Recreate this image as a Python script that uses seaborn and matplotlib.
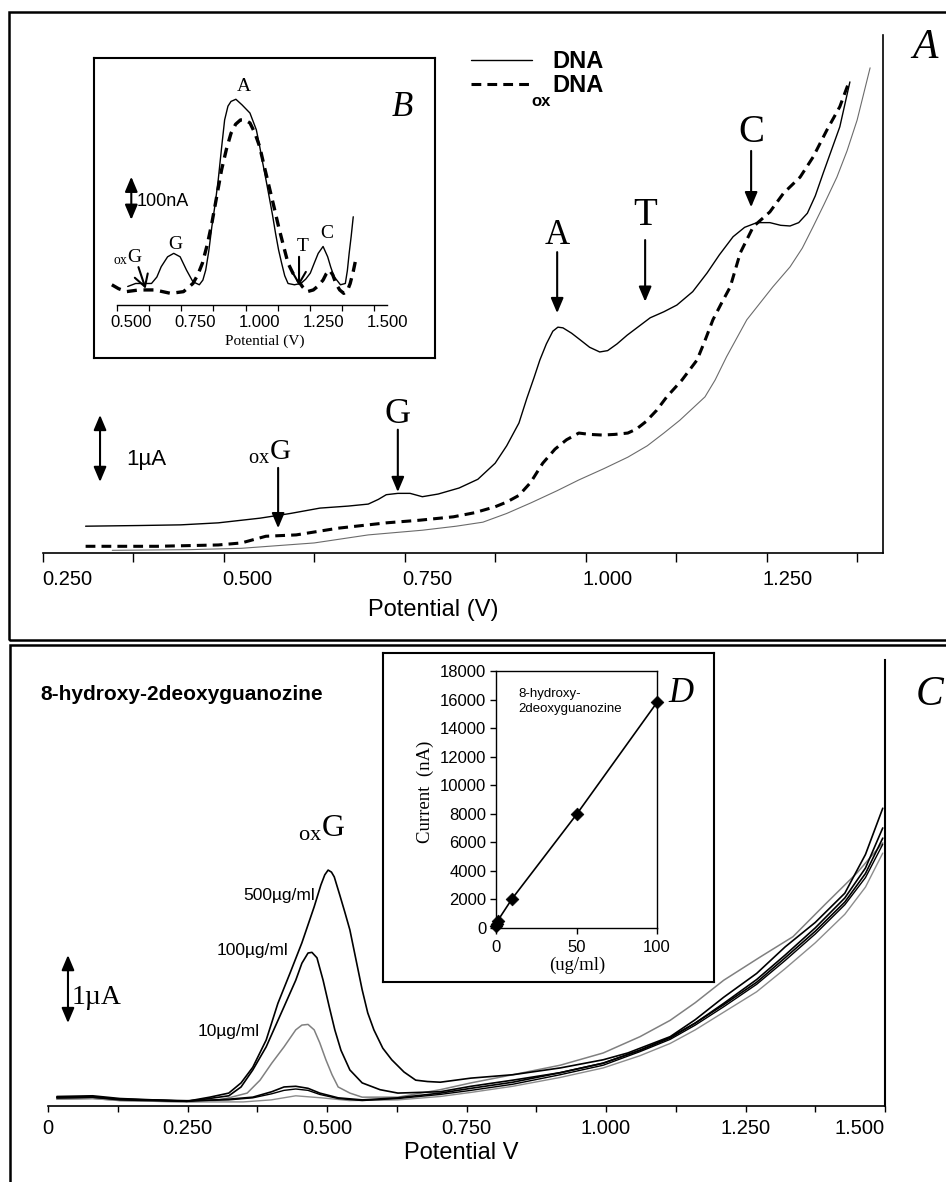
import numpy as np
import matplotlib
matplotlib.use("Agg")
import matplotlib.pyplot as plt
import seaborn as sns
from matplotlib.patches import Rectangle

# ---------------- Panel A : DPV of DNA / oxDNA (current in uA) ----------------
dna_v = [0.276, 0.350, 0.408, 0.460, 0.518, 0.560, 0.601, 0.640, 0.668, 0.682, 0.693,
         0.709, 0.726, 0.743, 0.765, 0.794, 0.820, 0.844, 0.860, 0.877, 0.888, 0.898,
         0.906, 0.915, 0.924, 0.931, 0.938, 0.950, 0.962, 0.975, 0.989, 1.000, 1.013,
         1.027, 1.043, 1.059, 1.078, 1.096, 1.118, 1.138, 1.155, 1.174, 1.190, 1.207,
         1.225, 1.240, 1.253, 1.265, 1.277, 1.288, 1.299, 1.310, 1.322, 1.336]
dna_i = [0.40, 0.41, 0.42, 0.45, 0.52, 0.59, 0.67, 0.70, 0.73, 0.80, 0.87,
         0.89, 0.89, 0.84, 0.88, 0.97, 1.10, 1.34, 1.60, 1.94, 2.31, 2.62,
         2.88, 3.12, 3.31, 3.37, 3.36, 3.28, 3.18, 3.07, 3.00, 3.02, 3.12,
         3.25, 3.38, 3.51, 3.60, 3.70, 3.90, 4.18, 4.45, 4.72, 4.86, 4.93,
         4.93, 4.89, 4.88, 4.93, 5.07, 5.33, 5.67, 6.00, 6.36, 7.03]

ox_v = [0.276, 0.375, 0.460, 0.492, 0.526, 0.568, 0.626, 0.693, 0.740, 0.786, 0.815,
        0.844, 0.860, 0.877, 0.893, 0.910, 0.927, 0.943, 0.960, 0.975, 0.993, 1.010,
        1.028, 1.040, 1.053, 1.068, 1.082, 1.103, 1.124, 1.135, 1.146, 1.158, 1.170,
        1.184, 1.202, 1.225, 1.244, 1.267, 1.285, 1.304, 1.322, 1.334]
ox_i = [0.10, 0.10, 0.12, 0.15, 0.25, 0.27, 0.37, 0.45, 0.49, 0.54, 0.60,
        0.69, 0.76, 0.86, 1.05, 1.34, 1.55, 1.69, 1.79, 1.77, 1.76, 1.77,
        1.79, 1.85, 1.96, 2.13, 2.33, 2.58, 2.88, 3.17, 3.48, 3.73, 3.97,
        4.48, 4.87, 5.09, 5.37, 5.61, 5.91, 6.31, 6.66, 7.01]

blank_v = [0.313, 0.420, 0.492, 0.593, 0.668, 0.743, 0.790, 0.827, 0.860, 0.894, 0.930,
           0.960, 0.995, 1.028, 1.055, 1.078, 1.100, 1.120, 1.135, 1.149, 1.165, 1.193,
           1.229, 1.253, 1.270, 1.285, 1.300, 1.318, 1.332, 1.346, 1.364]
blank_i = [0.04, 0.05, 0.07, 0.15, 0.27, 0.34, 0.40, 0.46, 0.59, 0.75, 0.93,
           1.09, 1.26, 1.43, 1.60, 1.79, 1.98, 2.18, 2.33, 2.58, 2.93, 3.48,
           3.97, 4.27, 4.55, 4.87, 5.20, 5.61, 6.00, 6.46, 7.24]

a_ticklabels = ["0.250", "0.500", "0.750", "1.000", "1.250"]
a_tickvals = [0.25, 0.50, 0.75, 1.00, 1.25]

# peak markers (oxG, G, A, T, C)
a_peaks = [r"$_{\mathrm{ox}}$G", "G", "A", "T", "C"]
a_arrow_v = [0.543, 0.709, 0.930, 1.052, 1.199]
a_arrow_top = [1.27, 1.84, 4.49, 4.67, 6.00]
a_arrow_bot = [0.37, 0.91, 3.58, 3.75, 5.16]
a_label_v = [0.532, 0.709, 0.930, 1.052, 1.199]
a_label_y = [1.39, 1.94, 4.61, 4.90, 6.13]
a_label_size = [21, 26, 25, 28, 28]

# ---------------- Panel B : baseline-corrected inset (nA) ----------------
b_dna_v = [0.486, 0.517, 0.579, 0.600, 0.617, 0.642, 0.666, 0.691, 0.716, 0.741, 0.766,
           0.780, 0.791, 0.803, 0.815, 0.828, 0.840, 0.853, 0.865, 0.878, 0.890, 0.909,
           0.933, 0.964, 0.989, 1.001, 1.014, 1.027, 1.039, 1.052, 1.064, 1.076, 1.088,
           1.100, 1.113, 1.138, 1.163, 1.182, 1.200, 1.216, 1.231, 1.250, 1.268, 1.280,
           1.293, 1.318, 1.337, 1.345, 1.352, 1.360, 1.368]
b_dna_i = [43, 50, 50, 65, 89, 112, 120, 112, 81, 54, 47,
           58, 81, 125, 182, 235, 291, 365, 430, 462, 473, 478,
           465, 446, 407, 372, 330, 290, 252, 210, 167, 128, 97,
           68, 50, 47, 50, 60, 74, 98, 120, 136, 112, 88,
           66, 47, 50, 80, 120, 160, 205]
b_ox_v = [0.424, 0.450, 0.480, 0.530, 0.592, 0.654, 0.704, 0.741, 0.760, 0.778, 0.797,
          0.815, 0.834, 0.853, 0.872, 0.890, 0.908, 0.927, 0.945, 0.964, 0.983, 1.002,
          1.020, 1.039, 1.058, 1.076, 1.095, 1.113, 1.132, 1.151, 1.170, 1.188, 1.212,
          1.232, 1.250, 1.262, 1.275, 1.288, 1.300, 1.315, 1.331, 1.345, 1.356, 1.368, 1.380]
b_ox_i = [47, 38, 31, 35, 35, 27, 31, 50, 70, 97, 140,
          190, 252, 314, 362, 399, 420, 430, 430, 423, 400, 368,
          322, 275, 228, 182, 138, 97, 74, 58, 42, 31, 35,
          45, 58, 72, 81, 70, 50, 35, 27, 33, 50, 78, 112]
b_ticklabels = ["0.500", "0.750", "1.000", "1.250", "1.500"]
b_tickvals = [0.50, 0.75, 1.00, 1.25, 1.50]

# ---------------- Panel C : 8-OHdG at several concentrations (uA) ----------------
c500_v = [0.016, 0.080, 0.129, 0.249, 0.290, 0.324, 0.346, 0.367, 0.391, 0.412, 0.434, 0.455,
          0.477, 0.489, 0.496, 0.502, 0.508, 0.513, 0.523, 0.532, 0.541, 0.552, 0.563, 0.573,
          0.584, 0.600, 0.616, 0.638, 0.659, 0.680, 0.703, 0.758, 0.833, 0.918, 0.995, 1.039,
          1.115, 1.160, 1.211, 1.270, 1.321, 1.375, 1.428, 1.465, 1.496]
c500_i = [0.12, 0.13, 0.09, 0.07, 0.13, 0.19, 0.34, 0.57, 0.97, 1.51, 1.96, 2.40,
          2.93, 3.25, 3.40, 3.47, 3.44, 3.37, 3.10, 2.85, 2.59, 2.15, 1.71, 1.37,
          1.12, 0.85, 0.68, 0.50, 0.38, 0.36, 0.35, 0.41, 0.46, 0.56, 0.68, 0.78,
          1.02, 1.27, 1.60, 1.95, 2.34, 2.70, 3.13, 3.70, 4.38]

c100_v = [0.016, 0.080, 0.129, 0.249, 0.280, 0.324, 0.346, 0.367, 0.391, 0.423, 0.444, 0.455,
          0.466, 0.473, 0.482, 0.493, 0.504, 0.514, 0.525, 0.541, 0.563, 0.595, 0.627,
          0.703, 0.758, 0.833, 0.918, 0.995, 1.061, 1.115, 1.160, 1.211, 1.270, 1.321,
          1.375, 1.428, 1.465, 1.496]
c100_i = [0.12, 0.13, 0.10, 0.07, 0.10, 0.15, 0.28, 0.53, 0.87, 1.46, 1.85, 2.10,
          2.25, 2.26, 2.18, 1.85, 1.46, 1.12, 0.82, 0.53, 0.34, 0.24, 0.19,
          0.21, 0.29, 0.38, 0.49, 0.63, 0.82, 1.00, 1.22, 1.51, 1.86, 2.22,
          2.62, 3.06, 3.50, 4.09]

c10_v = [0.016, 0.080, 0.129, 0.249, 0.300, 0.324, 0.357, 0.380, 0.401, 0.423, 0.444, 0.455,
         0.466, 0.477, 0.487, 0.498, 0.509, 0.520, 0.541, 0.563, 0.627, 0.703, 0.758,
         0.833, 0.918, 0.995, 1.061, 1.115, 1.160, 1.211, 1.276, 1.335, 1.392, 1.450, 1.496]
c10_i = [0.10, 0.11, 0.08, 0.06, 0.08, 0.12, 0.19, 0.38, 0.63, 0.87, 1.12, 1.19,
         1.20, 1.12, 0.93, 0.68, 0.46, 0.28, 0.19, 0.13, 0.13, 0.24, 0.34,
         0.46, 0.60, 0.78, 1.02, 1.26, 1.52, 1.85, 2.19, 2.49, 2.96, 3.43, 3.87]

c1_v = [0.016, 0.080, 0.129, 0.249, 0.324, 0.367, 0.401, 0.423, 0.444, 0.466, 0.487,
        0.520, 0.563, 0.627, 0.703, 0.758, 0.833, 0.918, 0.995, 1.061, 1.115, 1.160,
        1.211, 1.270, 1.321, 1.375, 1.428, 1.465, 1.496]
c1_i = [0.14, 0.15, 0.11, 0.07, 0.10, 0.13, 0.21, 0.28, 0.29, 0.26, 0.19,
        0.12, 0.09, 0.12, 0.19, 0.26, 0.35, 0.49, 0.63, 0.82, 1.01, 1.22,
        1.49, 1.82, 2.18, 2.57, 3.00, 3.42, 3.94]

c05_v = [0.016, 0.080, 0.129, 0.249, 0.324, 0.367, 0.401, 0.423, 0.444, 0.466, 0.487, 0.520,
         0.563, 0.627, 0.703, 0.758, 0.833, 0.918, 0.995, 1.061, 1.115, 1.160, 1.211,
         1.270, 1.321, 1.375, 1.428, 1.465, 1.496]
c05_i = [0.13, 0.14, 0.10, 0.08, 0.09, 0.12, 0.18, 0.23, 0.25, 0.23, 0.17, 0.11,
         0.08, 0.11, 0.17, 0.23, 0.32, 0.46, 0.60, 0.80, 0.98, 1.19, 1.46,
         1.79, 2.14, 2.53, 2.96, 3.36, 3.85]

cbl_v = [0.016, 0.080, 0.129, 0.249, 0.350, 0.400, 0.444, 0.490, 0.540, 0.627, 0.703, 0.758,
         0.833, 0.918, 0.995, 1.061, 1.115, 1.160, 1.211, 1.270, 1.321, 1.375, 1.428, 1.465,
         1.496]
cbl_i = [0.10, 0.11, 0.08, 0.06, 0.06, 0.09, 0.15, 0.12, 0.08, 0.09, 0.14, 0.20,
         0.29, 0.42, 0.56, 0.74, 0.92, 1.12, 1.38, 1.68, 2.02, 2.40, 2.82, 3.22,
         3.72]

c_ticklabels = ["0", "0.250", "0.500", "0.750", "1.000", "1.250", "1.500"]
c_tickvals = [0.0, 0.25, 0.50, 0.75, 1.00, 1.25, 1.50]
c_conc_labels = ["500\u00b5g/ml", "100\u00b5g/ml", "10\u00b5g/ml"]
c_conc_v = [0.478, 0.430, 0.380]
c_conc_y = [3.10, 2.29, 1.09]

# ---------------- Panel D : calibration ----------------
d_conc = [0.1, 0.5, 1, 10, 50, 100]
d_curr = [150, 300, 500, 2050, 7950, 15800]
d_yticks = [0, 2000, 4000, 6000, 8000, 10000, 12000, 14000, 16000, 18000]
d_xticks = [0, 50, 100]

# ======================================================================
W, H = 946, 1182
sns.set_theme(style="ticks")
plt.rcParams['font.family'] = ['Liberation Sans', 'DejaVu Sans']
plt.rcParams['mathtext.fontset'] = 'custom'
plt.rcParams['mathtext.rm'] = 'Liberation Serif'
plt.rcParams['mathtext.it'] = 'Liberation Serif:italic'
plt.rcParams['mathtext.bf'] = 'Liberation Sans:bold'
for k in ['text.color', 'axes.labelcolor', 'xtick.color', 'ytick.color', 'axes.edgecolor']:
    plt.rcParams[k] = 'black'

SERIF = ['Liberation Serif', 'DejaVu Serif']
SANS = ['Liberation Sans', 'DejaVu Sans']

fig = plt.figure(figsize=(W / 100, H / 100), dpi=100)
fig.patch.set_facecolor('white')


def box(x0, y0, x1, y1):
    return [x0 / W, 1 - y1 / H, (x1 - x0) / W, (y1 - y0) / H]


def fpt(x, y):
    return (x / W, 1 - y / H)


def draw_curve(ax, xs, ys, color, lw, dashes=None, clip=True):
    sns.lineplot(x=xs, y=ys, ax=ax, color=color, linewidth=lw, sort=False,
                 estimator=None, legend=False)
    line = ax.lines[-1]
    if dashes is not None:
        line.set_dashes(dashes)
    line.set_clip_on(clip)
    line.set_solid_joinstyle('round')
    return line


def arrow(ax, x0, y0, x1, y1, style='-|>,head_length=0.9,head_width=0.38', ms=10, lw=1.5):
    ax.annotate('', xy=(x1, y1), xytext=(x0, y0),
                arrowprops=dict(arrowstyle=style, mutation_scale=ms, lw=lw, color='black',
                                shrinkA=0, shrinkB=0), annotation_clip=False)


def frame_axes(rect):
    f = fig.add_axes(rect)
    f.set_xticks([])
    f.set_yticks([])
    f.set_facecolor('white')
    for s in f.spines.values():
        s.set_visible(True)
        s.set_linewidth(1.5)
        s.set_color('black')
    return f


# outer panel frames
fig.add_artist(Rectangle(fpt(9, 640), (970 - 9) / W, (640 - 12) / H, transform=fig.transFigure,
                         fill=False, lw=1.8, ec='black'))
fig.add_artist(Rectangle(fpt(10, 1210), (970 - 10) / W, (1210 - 645) / H, transform=fig.transFigure,
                         fill=False, lw=1.8, ec='black'))

# ------------------------------ Panel A ------------------------------
axA = fig.add_axes(box(43, 35, 883, 553))
axA.set_facecolor('none')
l_dna = draw_curve(axA, dna_v, dna_i, 'black', 1.0)
l_ox = draw_curve(axA, ox_v, ox_i, 'black', 2.2, dashes=(3.2, 2.0))
draw_curve(axA, blank_v, blank_i, '#6b6b6b', 0.8)
axA.set_xlim(0.2169, 1.3819)
axA.set_ylim(0, 7.73)
axA.set_xticks(a_tickvals)
axA.set_xticklabels(a_ticklabels)
axA.set_xticks([0.2169 + 0.12544 * k for k in range(10)], minor=True)
axA.tick_params(axis='x', which='major', length=0, pad=12, labelsize=14.5, bottom=True)
axA.tick_params(axis='x', which='minor', length=6.5, width=1.0, direction='out', bottom=True)
axA.set_yticks([])
for s in ['left', 'top']:
    axA.spines[s].set_visible(False)
axA.spines['right'].set_linewidth(1.2)
axA.spines['bottom'].set_linewidth(1.2)
axA.set_xlabel('Potential (V)', fontsize=17)
axA.xaxis.set_label_coords(0.464, -0.110)
axA.xaxis.label.set_va('center')

for v, t, b in zip(a_arrow_v, a_arrow_top, a_arrow_bot):
    arrow(axA, v, t, v, b)
for v, y, s, fs in zip(a_label_v, a_label_y, a_peaks, a_label_size):
    axA.text(v, y, s, ha='center', va='baseline', family=SERIF, fontsize=fs)

# 1 uA scale bar
arrow(axA, 0.296, 1.06, 0.296, 2.06, style='<|-|>,head_length=0.9,head_width=0.38')
axA.text(0.333, 1.39, '1\u00b5A', ha='left', va='center', fontsize=16, family=SANS)

axA.legend([l_dna, l_ox], ['DNA', 'DNA'], loc='upper left',
           bbox_to_anchor=fpt(471, 50), bbox_transform=fig.transFigure, frameon=False,
           prop=dict(family=SANS, weight='bold', size=17), handlelength=2.6,
           handletextpad=0.85, labelspacing=0.05, borderpad=0, borderaxespad=0)
fig.text(*fpt(541, 101), 'ox', ha='center', va='center', fontsize=12, weight='bold', family=SANS)

fig.text(*fpt(925, 48), 'A', family=SERIF, style='italic', fontsize=30, ha='center', va='center')

# ------------------------------ Panel B ------------------------------
frame_axes(box(94, 58, 435, 358))
axB = fig.add_axes(box(117, 70, 387, 305))
axB.set_facecolor('none')
draw_curve(axB, b_dna_v, b_dna_i, 'black', 1.0, clip=False)
draw_curve(axB, b_ox_v, b_ox_i, 'black', 2.4, dashes=(3.0, 2.0), clip=False)
axB.set_xlim(0.4441, 1.4497)
axB.set_ylim(0, 546)
axB.set_xticks(b_tickvals)
axB.set_xticklabels(b_ticklabels)
axB.set_xticks([0.4441 + 0.1257 * k for k in range(9)], minor=True)
axB.tick_params(axis='x', which='major', length=0, pad=7, labelsize=12, bottom=True)
axB.tick_params(axis='x', which='minor', length=4, width=0.9, direction='out', bottom=True)
axB.set_yticks([])
for s in ['left', 'top', 'right']:
    axB.spines[s].set_visible(False)
axB.spines['bottom'].set_linewidth(1.0)
axB.set_xlabel('Potential (V)', fontsize=11, family=SERIF)
axB.xaxis.set_label_coords(0.548, -0.155)
axB.xaxis.label.set_va('center')

axB.text(0.939, 507, 'A', ha='center', va='center', family=SERIF, fontsize=14)
axB.text(0.671, 140, 'G', ha='center', va='center', family=SERIF, fontsize=14)
axB.text(0.485, 100, r'$_{\mathrm{ox}}$G', ha='center', va='baseline', family=SERIF, fontsize=14)
axB.text(1.170, 135, 'T', ha='center', va='center', family=SERIF, fontsize=14)
axB.text(1.263, 167, 'C', ha='center', va='center', family=SERIF, fontsize=14)
arrow(axB, 0.528, 88, 0.556, 38, style='->,head_length=0.6,head_width=0.35', ms=14, lw=1.5)
arrow(axB, 1.156, 112, 1.156, 45, style='->,head_length=0.6,head_width=0.35', ms=14, lw=1.5)
arrow(axB, 0.500, 198, 0.500, 298, style='<|-|>,head_length=0.9,head_width=0.38')
axB.text(0.522, 240, '100nA', ha='left', va='center', fontsize=13, family=SANS)
fig.text(*fpt(402, 108), 'B', family=SERIF, style='italic', fontsize=25, ha='center', va='center')

# ------------------------------ Panel C ------------------------------
axC = fig.add_axes(box(48, 660, 885, 1106))
axC.set_facecolor('none')
draw_curve(axC, c10_v, c10_i, '#808080', 1.1)
draw_curve(axC, cbl_v, cbl_i, '#8c8c8c', 1.0)
draw_curve(axC, c05_v, c05_i, 'black', 1.0)
draw_curve(axC, c1_v, c1_i, 'black', 1.2)
draw_curve(axC, c100_v, c100_i, 'black', 1.2)
draw_curve(axC, c500_v, c500_i, 'black', 1.2)
axC.set_xlim(0, 1.5)
axC.set_ylim(0, 6.56)
axC.set_xticks(c_tickvals)
axC.set_xticklabels(c_ticklabels)
axC.set_xticks([0.125 + 0.25 * k for k in range(6)], minor=True)
axC.tick_params(axis='x', which='both', length=4.5, width=1.0, direction='out', bottom=True)
axC.tick_params(axis='x', which='major', pad=5, labelsize=14.5)
axC.set_yticks([])
for s in ['left', 'top']:
    axC.spines[s].set_visible(False)
axC.spines['right'].set_linewidth(1.5)
axC.spines['bottom'].set_linewidth(1.2)
axC.set_xlabel('Potential V', fontsize=17)
axC.xaxis.set_label_coords(0.4934, -0.1054)
axC.xaxis.label.set_va('center')
axC.get_xticklabels()[-1].set_horizontalalignment('right')

for v, y, s in zip(c_conc_v, c_conc_y, c_conc_labels):
    axC.text(v, y, s, ha='right', va='center', fontsize=12.5, family=SANS)
axC.text(0.491, 3.96, r'$_{\mathrm{ox}}$G', ha='center', va='baseline', family=SERIF, fontsize=23)
arrow(axC, 0.0358, 1.22, 0.0358, 2.22, style='<|-|>,head_length=0.9,head_width=0.38')
axC.text(0.043, 1.59, '1\u00b5A', ha='left', va='center', fontsize=20, family=SERIF)

fig.text(*fpt(40, 695), '8-hydroxy-2deoxyguanozine', ha='left', va='center',
         fontsize=15, weight='bold', family=SANS)
fig.text(*fpt(930, 695), 'C', family=SERIF, style='italic', fontsize=30, ha='center', va='center')

# ------------------------------ Panel D ------------------------------
frame_axes(box(383, 653, 714, 982))
axD = fig.add_axes(box(496, 671, 657, 928))
axD.set_facecolor('white')
draw_curve(axD, d_conc, d_curr, 'black', 1.2, clip=False)
sns.scatterplot(x=d_conc, y=d_curr, ax=axD, marker='D', s=42, color='black',
                edgecolor='black', linewidth=0.5, clip_on=False, legend=False, zorder=5)
axD.set_xlim(0, 100)
axD.set_ylim(0, 18000)
axD.set_yticks(d_yticks)
axD.set_xticks(d_xticks)
axD.tick_params(axis='both', which='major', length=4, width=1.0, direction='out',
                labelsize=12, left=True, bottom=True, pad=3)
axD.tick_params(axis='x', pad=5)
for s in axD.spines.values():
    s.set_visible(True)
    s.set_linewidth(1.0)
    s.set_color('black')
axD.set_ylabel('Current  (nA)', fontsize=13.5, family=SERIF)
axD.yaxis.set_label_coords(-0.441, 0.529)
axD.yaxis.label.set_va('center')
axD.set_xlabel('(ug/ml)', fontsize=13.5, family=SERIF)
axD.xaxis.set_label_coords(0.503, -0.144)
axD.xaxis.label.set_va('center')
axD.text(0.137, 0.935, '8-hydroxy-\n2deoxyguanozine', transform=axD.transAxes,
         ha='left', va='top', fontsize=9.5, family=SANS, linespacing=1.35)
fig.text(*fpt(681, 693), 'D', family=SERIF, style='italic', fontsize=25, ha='center', va='center')

fig.savefig('out.png', dpi=100, facecolor='white')
